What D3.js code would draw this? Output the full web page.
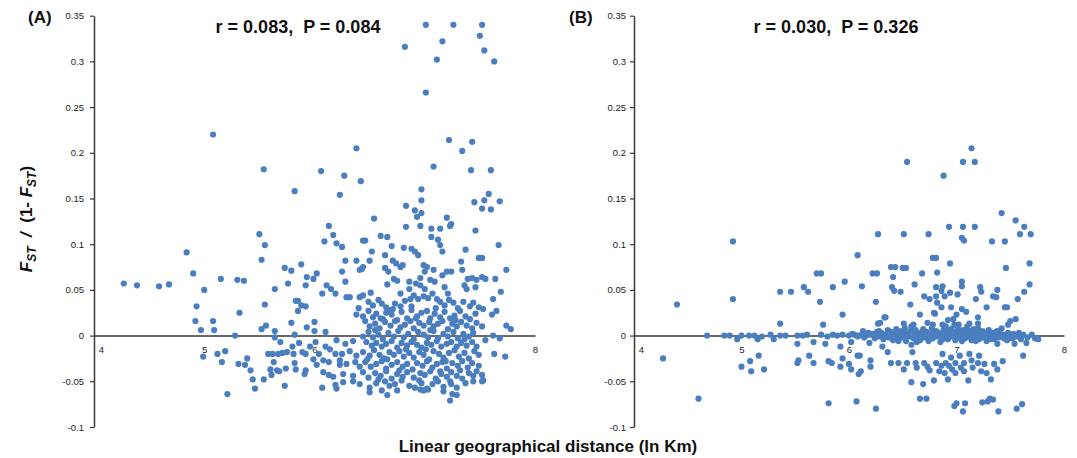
<!DOCTYPE html>
<html>
<head>
<meta charset="utf-8">
<script src="https://cdn.jsdelivr.net/npm/d3@7"></script>
<style>
  body { margin: 0; background: #fff; }
  text { font-family: Arial, "Liberation Sans", sans-serif; }
</style>
</head>
<body>
<svg id="chart" width="1077" height="458"></svg>
<script>
var xTicks = [4, 5, 6, 7, 8];
var yTicks = [-0.1, -0.05, 0, 0.05, 0.1, 0.15, 0.2, 0.25, 0.3, 0.35];
var panelNames = ["(A)", "(B)"];
var statLines = ["r = 0.083,  P = 0.084", "r = 0.030,  P = 0.326"];

// panel A: [ln km, Fst/(1-Fst)]
var pointsA = [
  [7.01,0.340],[7.26,0.340],[7.52,0.340],[7.50,0.328],[7.54,0.312],[6.82,0.316],[7.16,0.322],[7.11,0.302],[7.63,0.300],[7.01,0.266],
  [5.08,0.220],[7.22,0.214],[7.43,0.212],[7.34,0.202],[6.38,0.205],[7.08,0.185],[5.54,0.182],[6.06,0.180],[7.42,0.181],[7.60,0.181],
  [6.27,0.175],[6.42,0.169],[5.82,0.158],[6.97,0.160],[6.23,0.154],[7.58,0.155],[6.97,0.148],[7.45,0.146],[7.54,0.148],[7.68,0.147],
  [6.83,0.142],[7.52,0.139],[7.60,0.138],[6.91,0.137],[6.93,0.130],[6.97,0.134],[7.20,0.129],[6.54,0.128],[7.24,0.122],
  [5.50,0.111],[5.55,0.099],[4.84,0.091],[5.52,0.083],[5.88,0.078],[5.73,0.074],[5.79,0.071],[4.90,0.068],[5.93,0.064],[5.15,0.062],
  [5.30,0.061],[5.36,0.060],[5.92,0.055],[5.76,0.057],[4.27,0.057],[4.39,0.055],[4.59,0.054],[4.68,0.056],[5.00,0.050],[5.64,0.051],
  [5.83,0.038],[5.85,0.038],[5.55,0.034],[4.93,0.032],[5.88,0.033],[5.92,0.032],[5.85,0.027],[5.32,0.025],[4.92,0.016],[5.08,0.016],
  [5.79,0.014],[4.97,0.006],[5.09,0.006],[5.52,0.007],[5.56,0.011],[5.64,0.005],[5.93,0.009],[5.28,0.000],[5.82,0.001],[5.64,-0.002],
  [5.69,-0.007],[5.86,-0.008],[4.99,-0.023],[5.12,-0.020],[5.16,-0.029],[5.19,-0.017],[5.31,-0.031],[5.37,-0.032],[5.39,-0.025],[5.42,-0.038],
  [5.44,-0.048],[5.46,-0.058],[5.21,-0.064],[5.54,-0.048],[5.58,-0.020],[5.62,-0.020],[5.60,-0.037],[5.61,-0.043],[5.63,-0.029],[5.66,-0.038],
  [5.67,-0.020],[5.71,-0.019],[5.68,-0.039],[5.73,-0.055],[5.74,-0.036],[5.75,-0.018],[5.80,-0.012],[5.81,-0.020],[5.82,-0.030],[5.83,-0.037],
  [5.89,-0.018],[5.92,-0.020],[5.92,-0.038],[5.91,-0.042],[5.96,-0.012],
  [6.13,0.120],[6.83,0.119],[6.96,0.120],[7.06,0.117],[7.14,0.117],[7.23,0.120],[7.46,0.115],[7.06,0.108],[7.12,0.105],[6.60,0.109],
  [6.66,0.108],[6.09,0.103],[6.17,0.110],[6.20,0.101],[6.25,0.097],[6.44,0.104],[6.46,0.104],[6.70,0.098],[7.14,0.099],[7.16,0.092],
  [7.37,0.094],[7.67,0.099],[7.49,0.085],[7.52,0.085],[6.81,0.096],[6.88,0.095],[6.91,0.092],[6.94,0.088],[6.52,0.092],[6.64,0.088],
  [6.28,0.082],[6.38,0.082],[6.50,0.082],[6.71,0.082],[6.74,0.079],[6.78,0.075],[6.80,0.077],[6.64,0.074],[6.67,0.070],[6.43,0.073],
  [6.41,0.072],[6.44,0.075],[6.25,0.070],[6.02,0.068],[5.99,0.062],[6.28,0.059],[6.99,0.077],[7.02,0.075],[7.00,0.070],[7.08,0.072],
  [7.20,0.070],[7.16,0.066],[7.24,0.070],[7.33,0.081],[7.34,0.072],[7.39,0.062],[7.43,0.063],[7.47,0.061],[7.52,0.064],[7.55,0.062],
  [7.64,0.062],[7.74,0.072],[6.96,0.063],[6.92,0.057],[7.05,0.061],[7.09,0.059],[6.86,0.059],[6.72,0.062],[6.75,0.060],[6.66,0.056],
  [6.78,0.046],[6.86,0.051],[6.96,0.055],[7.00,0.051],[7.18,0.053],[7.21,0.046],[7.36,0.055],[7.38,0.051],[7.46,0.053],[6.11,0.055],
  [6.15,0.051],[6.19,0.046],[6.07,0.046],[6.29,0.042],[6.32,0.042],[6.41,0.042],[6.44,0.044],[6.51,0.047],[7.62,0.040],[7.69,0.048],
  [7.65,0.027],[7.61,0.023],[7.74,0.011],[7.78,0.007],[7.73,-0.023],[7.63,-0.020],[7.68,-0.003],[7.62,0.000],[7.55,-0.005],[7.52,-0.050],
  [6.49,0.037],[6.53,0.033],[6.58,0.039],[6.61,0.035],[6.65,0.031],[6.69,0.028],[6.73,0.035],[6.78,0.032],[6.82,0.038],[6.87,0.040],
  [6.90,0.044],[6.94,0.040],[6.99,0.043],[7.03,0.041],[7.07,0.046],[7.11,0.040],[7.14,0.037],[7.18,0.033],[7.22,0.039],[7.26,0.036],
  [7.30,0.030],[7.35,0.037],[7.41,0.032],[7.44,0.036],[7.49,0.031],[7.53,0.029],
  [6.44,0.021],[6.49,0.027],[6.53,0.020],[6.56,0.024],[6.60,0.019],[6.65,0.025],[6.70,0.023],[6.75,0.017],[6.79,0.026],[6.84,0.019],
  [6.88,0.028],[6.93,0.021],[6.97,0.025],[7.02,0.027],[7.05,0.019],[7.09,0.024],[7.14,0.020],[7.18,0.026],[7.23,0.019],[7.27,0.022],
  [7.32,0.027],[7.37,0.021],[7.41,0.018],[7.46,0.024],[6.40,0.030],[6.38,0.023],
  [6.46,0.016],[6.50,0.010],[6.55,0.013],[6.59,0.008],[6.64,0.015],[6.69,0.011],[6.73,0.016],[6.78,0.009],[6.82,0.012],[6.87,0.016],
  [6.90,0.008],[6.95,0.014],[6.99,0.011],[7.04,0.015],[7.08,0.010],[7.12,0.013],[7.16,0.016],[7.21,0.007],[7.25,0.013],[7.29,0.010],
  [7.33,0.015],[7.38,0.011],[7.43,0.008],[7.47,0.014],[7.52,0.010],[6.00,0.015],
  [6.49,0.004],[6.53,-0.002],[6.58,0.001],[6.62,-0.004],[6.67,0.003],[6.72,-0.001],[6.76,0.005],[6.81,-0.002],[6.85,0.002],[6.90,-0.004],
  [6.94,0.004],[6.99,0.001],[7.03,-0.002],[7.08,0.005],[7.12,-0.003],[7.17,0.002],[7.21,-0.001],[7.26,0.004],[7.30,-0.003],[7.35,0.002],
  [7.40,-0.001],[7.44,0.003],[6.10,0.004],[6.00,0.005],[6.44,-0.001],
  [6.47,-0.007],[6.52,-0.011],[6.56,-0.008],[6.61,-0.012],[6.65,-0.009],[6.70,-0.006],[6.75,-0.013],[6.79,-0.008],[6.84,-0.011],[6.88,-0.007],
  [6.93,-0.010],[6.97,-0.013],[7.02,-0.008],[7.06,-0.010],[7.11,-0.006],[7.15,-0.012],[7.20,-0.009],[7.24,-0.007],[7.29,-0.012],[7.33,-0.008],
  [7.38,-0.011],[7.43,-0.007],[7.47,-0.012],[6.01,-0.007],[6.10,-0.012],[6.20,-0.005],[6.28,-0.009],[6.35,-0.006],
  [6.44,-0.018],[6.50,-0.022],[6.54,-0.016],[6.59,-0.021],[6.63,-0.025],[6.68,-0.018],[6.72,-0.021],[6.77,-0.017],[6.81,-0.023],[6.86,-0.019],
  [6.90,-0.024],[6.95,-0.018],[6.99,-0.021],[7.04,-0.026],[7.08,-0.017],[7.13,-0.020],[7.17,-0.024],[7.22,-0.019],[7.27,-0.016],[7.31,-0.023],
  [7.36,-0.019],[7.40,-0.025],[7.45,-0.017],[7.49,-0.021],[6.04,-0.020],[6.14,-0.015],[6.19,-0.020],[6.25,-0.020],[6.32,-0.017],[6.38,-0.022],
  [6.46,-0.029],[6.51,-0.034],[6.56,-0.031],[6.61,-0.028],[6.65,-0.036],[6.70,-0.032],[6.75,-0.029],[6.80,-0.034],[6.84,-0.031],[6.89,-0.037],
  [6.93,-0.030],[6.98,-0.033],[7.02,-0.028],[7.07,-0.035],[7.11,-0.031],[7.16,-0.029],[7.20,-0.036],[7.25,-0.030],[7.30,-0.033],[7.34,-0.028],
  [7.39,-0.035],[7.43,-0.030],[7.49,-0.033],[6.02,-0.032],[6.08,-0.027],[6.13,-0.029],[6.23,-0.027],[6.23,-0.032],[6.29,-0.031],[6.37,-0.029],
  [6.41,-0.034],[5.99,-0.026],
  [6.08,-0.040],[6.13,-0.043],[6.17,-0.045],[6.26,-0.042],[6.35,-0.044],[6.44,-0.040],[6.49,-0.046],[6.55,-0.041],[6.60,-0.044],[6.65,-0.039],
  [6.70,-0.047],[6.75,-0.042],[6.80,-0.045],[6.84,-0.040],[6.90,-0.046],[6.96,-0.041],[7.00,-0.043],[7.05,-0.039],[7.10,-0.047],[7.15,-0.042],
  [7.20,-0.045],[7.24,-0.040],[7.29,-0.044],[7.34,-0.047],[7.40,-0.041],[7.44,-0.044],[7.47,-0.039],[7.52,-0.043],
  [6.07,-0.057],[6.19,-0.054],[6.20,-0.058],[6.26,-0.051],[6.35,-0.050],[6.41,-0.053],[6.50,-0.057],[6.56,-0.052],[6.64,-0.050],[6.68,-0.055],
  [6.73,-0.053],[6.79,-0.049],[6.86,-0.055],[6.91,-0.057],[6.97,-0.052],[7.02,-0.058],[7.07,-0.053],[7.12,-0.050],[7.17,-0.056],[7.24,-0.053],
  [7.29,-0.057],[7.37,-0.052],[7.44,-0.050],[7.53,-0.049],
  [6.50,-0.062],[6.61,-0.060],[6.66,-0.065],[6.75,-0.060],[6.96,-0.059],[6.99,-0.060],[7.03,-0.059],[7.17,-0.061],[7.25,-0.064],[7.23,-0.071],
  [7.29,-0.065],
  [6.55,0.006],[6.62,0.018],[6.71,0.029],[6.83,-0.015],[6.92,0.019],[7.01,-0.015],[7.10,0.030],[7.19,-0.028],[7.28,0.017],[7.36,-0.004],
  [6.66,-0.026],[6.77,-0.038],[6.95,-0.049],[7.05,0.006],[7.14,-0.039],[7.23,-0.050],[7.32,-0.038],[6.58,-0.048],[6.88,0.032],[6.48,-0.026]
];

// panel B: [ln km, Fst/(1-Fst)]
var pointsB = [
  [7.14,0.205],[6.54,0.190],[7.06,0.190],[7.17,0.190],[6.88,0.175],[7.42,0.134],[7.55,0.126],[7.63,0.119],[6.93,0.119],[7.06,0.119],
  [7.17,0.119],[6.27,0.111],[6.51,0.111],[6.74,0.111],[7.59,0.111],[7.69,0.111],[7.05,0.107],[7.07,0.104],[7.33,0.103],[7.45,0.103],
  [4.92,0.103],[6.08,0.088],[6.78,0.085],[6.81,0.085],[6.94,0.079],[7.68,0.079],[6.39,0.075],[6.43,0.075],[6.50,0.074],[6.53,0.074],
  [7.46,0.074],[5.70,0.068],[5.74,0.068],[6.22,0.068],[6.26,0.068],[6.68,0.068],[6.41,0.064],[6.82,0.069],[5.96,0.059],[7.05,0.059],
  [6.61,0.056],[7.05,0.054],[7.68,0.056],[6.12,0.054],[5.85,0.053],[5.58,0.053],[6.40,0.053],[6.81,0.053],[6.87,0.054],[7.22,0.053],
  [7.38,0.050],[5.36,0.048],[5.46,0.048],[5.62,0.048],[6.42,0.049],[6.48,0.048],[7.23,0.048],[7.63,0.048],[6.86,0.049],[6.94,0.047],
  [7.01,0.045],[6.70,0.043],[6.81,0.043],[6.89,0.043],[7.34,0.043],[7.37,0.042],[6.75,0.040],[7.18,0.040],[7.57,0.040],[4.92,0.040],
  [4.40,0.034],[5.73,0.037],[6.25,0.037],[6.57,0.034],[6.82,0.036],[7.45,0.031],[7.47,0.031],[7.28,0.031],[6.86,0.031],[6.95,0.031],
  [7.05,0.029],[7.09,0.026],[6.80,0.024],[6.66,0.023],[5.94,0.023],[7.00,0.023],[7.20,0.020],[6.34,0.020],[7.55,0.018],[7.50,0.016],
  [6.92,0.017],[6.97,0.018],[6.29,0.014],[5.36,0.013],[6.73,0.014],[6.78,0.012],[7.12,0.013],[7.20,0.013],[7.48,0.012],[5.76,0.012],
  [6.51,0.013],[6.60,0.012],[6.87,0.012],[7.02,0.012],[6.33,0.020],[6.27,0.013],[6.79,0.025],
  [4.68,0.000],[4.84,0.000],[4.89,0.000],[4.96,-0.004],[5.00,0.000],[5.07,0.000],[5.12,0.000],[5.15,-0.004],[5.19,-0.001],[5.27,0.001],
  [5.30,-0.004],[5.36,0.000],[5.41,0.000],[5.52,0.000],[5.52,-0.009],[5.57,0.000],[5.61,0.001],[5.67,-0.007],[5.74,0.001],[5.80,-0.001],
  [5.78,-0.009],[5.85,0.001],[5.89,0.000],[5.94,0.001],[6.00,0.000],[6.02,-0.007],[6.05,0.001],[6.09,0.000],[6.13,0.005],[6.16,0.000],
  [6.19,-0.008],[6.20,0.001],[6.25,0.000],[6.28,0.005],
  [6.30,0.003],[6.32,-0.004],[6.34,0.001],[6.36,0.006],[6.37,-0.002],[6.39,0.004],[6.41,-0.005],[6.42,0.002],[6.44,0.007],[6.45,-0.003],
  [6.47,0.001],[6.48,0.005],[6.50,-0.002],[6.51,0.003],[6.52,0.008],[6.53,-0.006],[6.55,0.002],[6.56,-0.001],[6.57,0.005],[6.58,0.010],
  [6.60,-0.003],[6.61,0.002],[6.62,0.006],[6.64,-0.001],[6.65,0.003],[6.66,-0.005],[6.68,0.001],[6.69,0.007],[6.70,-0.002],[6.72,0.004],
  [6.73,0.000],[6.74,-0.006],[6.76,0.002],[6.77,0.008],[6.78,-0.003],[6.80,0.001],[6.81,0.005],[6.82,-0.001],[6.84,0.003],[6.85,-0.007],
  [6.86,0.000],[6.88,0.006],[6.89,-0.002],[6.90,0.010],[6.91,0.003],[6.92,-0.004],[6.94,0.001],[6.95,0.007],[6.96,-0.001],[6.97,0.004],
  [6.98,0.012],[6.99,-0.005],[7.00,0.002],[7.01,0.008],[7.02,-0.002],[7.03,0.004],[7.04,0.000],[7.05,-0.006],[7.06,0.006],[7.07,0.001],
  [7.08,-0.003],[7.09,0.005],[7.10,0.010],[7.11,-0.001],[7.12,0.003],[7.14,-0.005],[7.15,0.001],[7.16,0.007],[7.17,-0.002],[7.19,0.002],
  [7.20,0.008],[7.21,-0.004],[7.22,0.000],[7.24,0.005],[7.25,-0.002],[7.26,0.003],[7.28,-0.006],[7.29,0.001],[7.30,0.006],[7.32,-0.001],
  [7.33,0.003],[7.35,-0.004],[7.36,0.001],[7.38,0.005],[7.39,-0.002],[7.41,0.002],[7.42,0.008],[7.44,-0.003],[7.45,0.001],[7.47,-0.005],
  [7.48,0.003],[7.50,0.000],[7.52,-0.003],[7.53,0.002],[7.56,-0.001],[7.58,0.003],[7.60,-0.004],[7.62,0.001],[7.66,-0.002],[7.70,0.001],
  [7.73,-0.003],[7.76,-0.004],[6.22,0.002],[6.24,-0.003],[6.26,0.004],[6.28,-0.001],[6.12,0.001],[6.14,-0.002],[6.18,0.003],[6.08,-0.001],
  [6.03,0.002],[6.40,0.000],[6.46,-0.006],[6.54,0.000],[6.63,-0.007],[6.71,0.000],[6.79,0.003],[6.87,-0.004],[6.93,0.005],[7.00,-0.002],
  [7.06,0.002],[7.13,0.005],[7.18,-0.006],[7.23,0.003],[7.31,-0.004],[7.37,0.004],[7.43,-0.001],
  [4.27,-0.025],[4.60,-0.069],[5.00,-0.034],[5.08,-0.028],[5.09,-0.039],[5.16,-0.022],[5.21,-0.037],[5.52,-0.030],[5.53,-0.027],[5.63,-0.022],
  [5.67,-0.030],[5.81,-0.074],[5.81,-0.028],[5.84,-0.030],[5.92,-0.012],[5.94,-0.025],[5.92,-0.034],[6.00,-0.031],[6.02,-0.037],[6.07,-0.072],
  [6.08,-0.022],[6.10,-0.022],[6.09,-0.042],[6.11,-0.039],[6.20,-0.027],[6.20,-0.034],[6.25,-0.080],[6.31,-0.012],[6.36,-0.018],[6.39,-0.030],
  [6.46,-0.030],[6.51,-0.037],[6.54,-0.030],[6.58,-0.010],[6.59,-0.018],[6.58,-0.051],[6.62,-0.030],[6.63,-0.035],[6.66,-0.069],[6.69,-0.053],
  [6.72,-0.069],[6.70,-0.030],[6.73,-0.034],[6.75,-0.038],[6.79,-0.049],[6.81,-0.030],[6.84,-0.039],[6.87,-0.020],[6.86,-0.033],[6.89,-0.041],
  [6.92,-0.048],[6.90,-0.030],[6.93,-0.033],[6.95,-0.024],[6.98,-0.077],[7.00,-0.074],[7.06,-0.083],[7.08,-0.074],[6.96,-0.037],[6.99,-0.030],
  [6.99,-0.041],[7.03,-0.022],[7.04,-0.035],[7.07,-0.039],[7.07,-0.030],[7.11,-0.049],[7.12,-0.020],[7.14,-0.027],[7.15,-0.035],[7.20,-0.030],
  [7.21,-0.022],[7.23,-0.039],[7.24,-0.073],[7.26,-0.031],[7.28,-0.041],[7.29,-0.072],[7.31,-0.069],[7.32,-0.048],[7.34,-0.070],[7.35,-0.031],
  [7.38,-0.037],[7.39,-0.083],[7.38,-0.009],[7.43,-0.028],[7.56,-0.080],[7.61,-0.075],[7.62,-0.022],[7.54,-0.009],[7.65,-0.008]
];

var svg = d3.select("#chart");
var W = 1077, H = 458;
svg.append("rect").attr("width", W).attr("height", H).attr("fill", "#fff");

var yScale = d3.scaleLinear().domain([-0.1, 0.35]).range([427, 15.7]);
var dotColor = "#4a7ebf";
var axisColor = "#3a3a3a";

var panels = [
  { name: panelNames[0], stat: statLines[0], pts: pointsA, x0: 94, x1: 535, nameX: 28, statX: 298, pad: 6 },
  { name: panelNames[1], stat: statLines[1], pts: pointsB, x0: 634, x1: 1064, nameX: 569, statX: 836, pad: 4 }
];

panels.forEach(function (p) {
  var xScale = d3.scaleLinear().domain([4, 8]).range([p.x0, p.x1]);
  var g = svg.append("g");

  // y axis
  var yAxis = d3.axisLeft(yScale)
    .tickValues(yTicks)
    .tickSize(4)
    .tickSizeOuter(0)
    .tickPadding(p.pad)
    .tickFormat(function (d) { return String(+d.toFixed(2)); });
  var ya = g.append("g").attr("transform", "translate(" + p.x0 + ",0)").call(yAxis);
  ya.select(".domain").attr("stroke", axisColor).attr("stroke-width", 1.5);
  ya.selectAll(".tick line").attr("stroke", axisColor).attr("stroke-width", 1.2);
  ya.selectAll("text").attr("font-size", 9.5).attr("fill", "#222")
    .style("font-family", "Arial, 'Liberation Sans', sans-serif");

  // x axis along zero
  var xAxis = d3.axisBottom(xScale).tickValues(xTicks).tickFormat(d3.format("d"))
    .tickSize(0).tickSizeOuter(0).tickPadding(11);
  var xa = g.append("g").attr("transform", "translate(0," + yScale(0) + ")").call(xAxis);
  xa.select(".domain").attr("stroke", axisColor).attr("stroke-width", 1.5);
  xa.selectAll("text").attr("font-size", 9.5).attr("fill", "#222")
    .style("font-family", "Arial, 'Liberation Sans', sans-serif")
    .attr("dx", function (d) { return d === 4 ? 7 : 0; });

  // points
  g.append("g").selectAll("circle")
    .data(p.pts)
    .enter()
    .append("circle")
    .attr("cx", function (d) { return xScale(d[0]); })
    .attr("cy", function (d) { return yScale(d[1]); })
    .attr("r", 3.1)
    .attr("fill", dotColor);

  // panel letter and stats
  svg.append("text").attr("x", p.nameX).attr("y", 23)
    .attr("font-size", 17).attr("font-weight", "bold").attr("fill", "#111")
    .text(p.name);
  svg.append("text").attr("x", p.statX).attr("y", 33)
    .attr("text-anchor", "middle").attr("font-size", 18).attr("font-weight", "bold").attr("fill", "#111")
    .style("white-space", "pre")
    .text(p.stat);
});

// y axis title
var yt = svg.append("text")
  .attr("transform", "translate(32,219) rotate(-90)")
  .attr("text-anchor", "middle")
  .attr("font-size", 17).attr("font-weight", "bold").attr("fill", "#111")
  .style("white-space", "pre");
yt.append("tspan").attr("font-style", "italic").text("F");
yt.append("tspan").attr("font-style", "italic").attr("font-size", 12).attr("dy", 4).text("ST");
yt.append("tspan").attr("font-style", "italic").attr("dy", -4).text("  /  ");
yt.append("tspan").text("(1- ");
yt.append("tspan").attr("font-style", "italic").text("F");
yt.append("tspan").attr("font-style", "italic").attr("font-size", 12).attr("dy", 4).text("ST");
yt.append("tspan").attr("dy", -4).text(")");

// x axis title
svg.append("text").attr("x", 548).attr("y", 452)
  .attr("text-anchor", "middle").attr("font-size", 17).attr("font-weight", "bold").attr("fill", "#111")
  .text("Linear geographical distance (ln Km)");
</script>
</body>
</html>
